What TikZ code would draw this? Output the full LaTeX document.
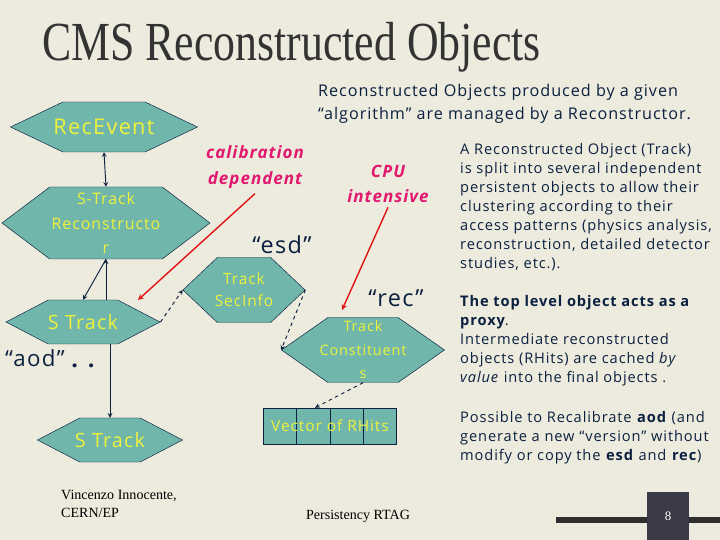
\documentclass[tikz,border=0pt]{standalone}
\usepackage{fontspec}
\setmainfont[LetterSpace=6]{Open Sans}
\newfontfamily\titlefont[FakeStretch=0.795]{Liberation Serif}
\newfontfamily\footfont{Liberation Serif}
\usepackage{xcolor}
\usetikzlibrary{shapes.symbols, arrows, positioning}

\definecolor{slidebg}{RGB}{236,235,222}
\definecolor{navy}{RGB}{12,32,64}
\definecolor{tealfill}{RGB}{112,182,170}
\definecolor{hexyellow}{RGB}{238,242,60}
\definecolor{calibred}{RGB}{226,24,110}
\definecolor{arrowred}{RGB}{226,20,20}
\definecolor{pagebox}{RGB}{58,58,72}

\begin{document}
\begin{tikzpicture}[
    x=0.03cm, y=-0.03cm,
    hexnode/.style={signal, signal to=east and west, signal from=nowhere, draw=navy, fill=tealfill, text=hexyellow, align=center, inner xsep=-3cm, inner ysep=0pt},
    bodytext/.style={text=navy, align=left, inner sep=0pt, font=\fontsize{12.5}{16.2}\selectfont},
    quotelabel/.style={text=navy, inner sep=0pt, font=\fontsize{20}{22}\selectfont},
    notelabel/.style={text=calibred, align=center, inner sep=0pt, font=\fontsize{14.5}{22}\selectfont\bfseries\itshape},
    arrow/.style={thick, ->, >=stealth, draw=navy},
    dasharrow/.style={thick, dashed, ->, >=stealth, draw=navy},
    redarrow/.style={very thick, ->, >=stealth, draw=arrowred}
]
    % Background
    \fill[slidebg] (0,0) rectangle (720,540);
    \useasboundingbox (0,0) rectangle (720,540);

    % Title and texts
    \node (title) [anchor=base west, inner sep=0pt, text=black!80, font=\titlefont\fontsize{47}{50}\selectfont] at (42,61) {CMS Reconstructed Objects};
    \node (intro) [bodytext, anchor=north west, font=\fontsize{13.8}{19.6}\selectfont] at (318,84) {Reconstructed Objects produced by a given\\“algorithm” are managed by a Reconstructor.};
    \node (split) [bodytext, anchor=north west] at (460,143) {A Reconstructed Object (Track)\\is split into several independent\\persistent objects to allow their\\clustering according to their\\access patterns (physics analysis,\\reconstruction, detailed detector\\studies, etc.).};
    \node (proxy) [bodytext, anchor=north west] at (460,295) {\textbf{The top level object acts as a}\\\textbf{proxy}.\\Intermediate reconstructed\\objects (RHits) are cached \textit{by}\\\textit{value} into the final objects .};
    \node (recal) [bodytext, anchor=north west] at (460,411) {Possible to Recalibrate \textbf{aod} (and\\generate a new “version” without\\modify or copy the \textbf{esd} and \textbf{rec})};

    % Nodes
    \node (recevent) [hexnode, minimum width=187*0.03cm, minimum height=50*0.03cm, signal pointer angle=51, font=\fontsize{18.5}{20}\selectfont] at (104,127) {RecEvent};
    \node (reco) [hexnode, minimum width=208*0.03cm, minimum height=72*0.03cm, signal pointer angle=74, font=\fontsize{13.6}{21}\selectfont] at (106,223) {S-Track\\Reconstructo\\r};
    \node (strack1) [hexnode, minimum width=154*0.03cm, minimum height=44*0.03cm, signal pointer angle=55, font=\fontsize{16.8}{19}\selectfont] at (83,322) {S Track};
    \node (strack2) [hexnode, minimum width=145*0.03cm, minimum height=44*0.03cm, signal pointer angle=55, font=\fontsize{16.8}{19}\selectfont] at (110,440) {S Track};
    \node (secinfo) [hexnode, minimum width=122*0.03cm, minimum height=65*0.03cm, signal pointer angle=87, font=\fontsize{13.2}{19}\selectfont] at (244,290) {Track\\SecInfo};
    \node (constit) [hexnode, minimum width=163*0.03cm, minimum height=65*0.03cm, signal pointer angle=70, font=\fontsize{12.3}{20}\selectfont] at (363,350) {Track\\Constituent\\s};
    \node (rhits) [rectangle, draw=navy, fill=tealfill, text=hexyellow, inner sep=0pt, minimum width=133*0.03cm, minimum height=36*0.03cm, font=\fontsize{13.2}{15}\selectfont,
        path picture={\foreach \k in {-1,0,1} \draw[navy] ([xshift=\k cm]path picture bounding box.north) -- ([xshift=\k cm]path picture bounding box.south);}] at (330,426) {Vector of RHits};

    % Labels
    \node (calib) [notelabel] at (255,167) {calibration\\dependent};
    \node (cpu) [notelabel] at (388,184) {CPU\\intensive};
    \node (esd) [quotelabel] at (282,245) {“esd”};
    \node (rec) [quotelabel] at (396,298) {“rec”};
    \node (aod) [quotelabel, font=\fontsize{19}{22}\selectfont] at (35,358) {“aod”};
    \node (dots) [quotelabel, font=\fontsize{20}{22}\selectfont\bfseries] at (83,366) {. .};
    \coordinate (calibtip) at (138,300);
    \coordinate (cputip) at (342,310);

    % Flows
    \draw [arrow, <->] (recevent.south) -- (reco.north);
    \draw [arrow] (reco.south) -- (strack1.north);
    \draw [arrow] (strack1.north -| reco.south) -- (reco.south);
    \draw [arrow] (strack1.south -| strack2.north) -- (strack2.north);
    \draw [dasharrow] (strack1.east) -- (secinfo.west);
    \draw [dasharrow] (secinfo.east) -- (constit.west);
    \draw [dasharrow] (constit.south) -- ([xshift=-0.45cm]rhits.north);
    \draw [redarrow] ([yshift=-0.15cm]calib.south) -- (calibtip);
    \draw [redarrow] ([yshift=-0.12cm]cpu.south) -- (cputip);

    % Footer
    \node (author) [anchor=north west, align=left, inner sep=0pt, font=\footfont\fontsize{12}{15}\selectfont] at (61,490) {Vincenzo Innocente,\\CERN/EP};
    \node (rtag) [inner sep=0pt, font=\footfont\fontsize{12}{14}\selectfont] at (358,516) {Persistency RTAG};
    \fill[black!82] (556,517) rectangle (720,523);
    \node (pagenum) [fill=pagebox, minimum width=42*0.03cm, minimum height=48*0.03cm, inner sep=0pt, text=white, font=\footfont\fontsize{11}{13}\selectfont] at (668,516) {8};
\end{tikzpicture}
\end{document}
